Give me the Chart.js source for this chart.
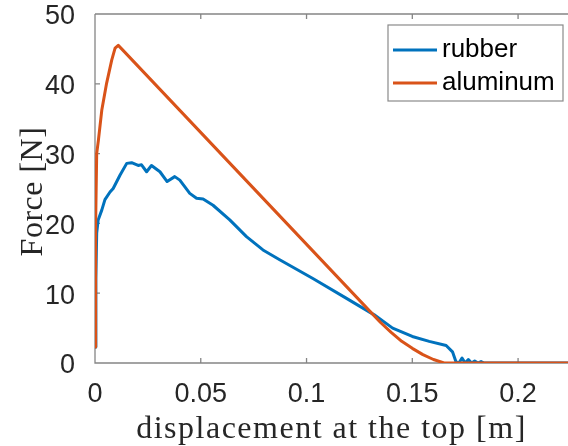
<!DOCTYPE html>
<html>
<head>
<meta charset="utf-8">
<script src="https://cdn.jsdelivr.net/npm/chart.js@4.4.0/dist/chart.umd.min.js"></script>
<style>
  html, body { margin: 0; padding: 0; background: #fff; }
</style>
</head>
<body>
<canvas id="forceChart" width="568" height="446"></canvas>
<script>
// tick values
const xTicks = [0, 0.05, 0.1, 0.15, 0.2];
const yTicks = [0, 10, 20, 30, 40, 50];

const seriesNames = ['rubber', 'aluminum'];

// rubber: displacement [m] / force [N]
const rubberX = [0, 0.0004, 0.0008, 0.0015, 0.0032, 0.0047, 0.0071, 0.0086, 0.0118, 0.015,
  0.0173, 0.0204, 0.022, 0.0244, 0.0267, 0.0307, 0.0341, 0.0377, 0.0401, 0.0448,
  0.048, 0.0511, 0.0558, 0.0637, 0.0716, 0.0794, 0.0873, 0.103, 0.1187, 0.132,
  0.1407, 0.150, 0.158, 0.166, 0.169, 0.1706, 0.172, 0.1735, 0.175, 0.1765,
  0.178, 0.1795, 0.181, 0.1825, 0.184, 0.2236];
const rubberY = [2.3, 12, 18.6, 20.5, 21.9, 23.4, 24.5, 25, 26.9, 28.6,
  28.7, 28.3, 28.4, 27.4, 28.3, 27.4, 26.0, 26.7, 26.2, 24.3,
  23.6, 23.5, 22.6, 20.5, 18.1, 16.2, 14.8, 12.1, 9.3, 6.9,
  5.0, 3.8, 3.1, 2.5, 1.6, 0.2, 0, 0.7, 0, 0.5,
  0, 0.3, 0, 0.2, 0, 0];

// aluminum
const aluminumX = [0, 0.0003, 0.0008, 0.0016, 0.0032, 0.0055, 0.0079, 0.0095, 0.011, 0.0126,
  0.13, 0.135, 0.14, 0.145, 0.15, 0.155, 0.16, 0.165, 0.2236];
const aluminumY = [2.3, 20, 30, 31.9, 36.2, 40.1, 43.4, 45.1, 45.5, 45.0,
  7.4, 5.8, 4.4, 3.1, 2.1, 1.2, 0.5, 0, 0];

const colors = ['#0072BD', '#D95319'];
const axisColor = '#858585';
const textColor = '#262626';

const toPoints = (xs, ys) => xs.map((x, i) => ({ x: x, y: ys[i] }));

// box lines + inward ticks (drawn under the data like MATLAB)
const framePlugin = {
    id: 'frame',
    beforeDatasetsDraw(chart) {
        const { ctx, chartArea: a, scales } = chart;
        ctx.save();
        ctx.strokeStyle = axisColor;
        ctx.lineWidth = 1.3;
        ctx.beginPath();
        ctx.moveTo(a.left, a.top);
        ctx.lineTo(a.right + 2, a.top);
        ctx.moveTo(a.left, a.top);
        ctx.lineTo(a.left, a.bottom);
        ctx.lineTo(a.right + 2, a.bottom);
        xTicks.forEach(v => {
            const px = scales.x.getPixelForValue(v);
            ctx.moveTo(px, a.bottom);
            ctx.lineTo(px, a.bottom - 5);
            ctx.moveTo(px, a.top);
            ctx.lineTo(px, a.top + 5);
        });
        yTicks.forEach(v => {
            const py = scales.y.getPixelForValue(v);
            ctx.moveTo(a.left, py);
            ctx.lineTo(a.left + 5, py);
        });
        ctx.stroke();
        ctx.restore();
    }
};

// axis titles (LaTeX-ish serif)
const titlePlugin = {
    id: 'titles',
    afterDraw(chart) {
        const { ctx, chartArea: a } = chart;
        ctx.save();
        ctx.fillStyle = textColor;
        ctx.font = '32px "Liberation Serif"';
        ctx.textAlign = 'center';
        ctx.textBaseline = 'alphabetic';
        ctx.letterSpacing = '1.5px';
        ctx.fillText('displacement at the top [m]', (a.left + a.right) / 2, a.bottom + 75);
        ctx.letterSpacing = '0.5px';
        ctx.translate(42, (a.top + a.bottom) / 2 + 3);
        ctx.rotate(-Math.PI / 2);
        ctx.fillText('Force [N]', 0, 0);
        ctx.restore();
    }
};

// legend box in the top right corner
const legendPlugin = {
    id: 'boxLegend',
    afterDraw(chart) {
        const { ctx, chartArea: a } = chart;
        const w = 175, h = 76;
        const x0 = a.right - 5 - w, y0 = a.top + 11;
        ctx.save();
        ctx.fillStyle = '#fff';
        ctx.fillRect(x0, y0, w, h);
        ctx.strokeStyle = '#8a8a8a';
        ctx.lineWidth = 1.2;
        ctx.strokeRect(x0, y0, w, h);
        ctx.font = '26px "Liberation Sans"';
        ctx.textBaseline = 'middle';
        chart.data.datasets.forEach((ds, i) => {
            const yy = y0 + 25 + i * 33;
            ctx.strokeStyle = ds.borderColor;
            ctx.lineWidth = 3;
            ctx.beginPath();
            ctx.moveTo(x0 + 5, yy);
            ctx.lineTo(x0 + 49, yy);
            ctx.stroke();
            ctx.fillStyle = '#000';
            ctx.fillText(ds.label, x0 + 54, yy);
        });
        ctx.restore();
    }
};

const ctx = document.getElementById('forceChart').getContext('2d');
Chart.defaults.font.family = '"Liberation Sans", Arial, sans-serif';
Chart.defaults.color = textColor;

new Chart(ctx, {
    type: 'scatter',
    data: {
        datasets: [
            {
                label: seriesNames[0],
                data: toPoints(rubberX, rubberY),
                borderColor: colors[0],
                backgroundColor: colors[0],
                borderWidth: 3,
                showLine: true,
                pointRadius: 0,
                borderJoinStyle: 'round',
                borderCapStyle: 'round',
                order: 1
            },
            {
                label: seriesNames[1],
                data: toPoints(aluminumX, aluminumY),
                borderColor: colors[1],
                backgroundColor: colors[1],
                borderWidth: 3,
                showLine: true,
                pointRadius: 0,
                borderJoinStyle: 'round',
                borderCapStyle: 'round',
                order: 0
            }
        ]
    },
    options: {
        responsive: false,
        animation: false,
        layout: { padding: { top: 14, right: 0, left: 0, bottom: 0 } },
        plugins: {
            legend: { display: false },
            tooltip: { enabled: false }
        },
        scales: {
            x: {
                type: 'linear',
                min: 0,
                max: 0.2236,
                grid: { display: false },
                border: { display: false },
                afterBuildTicks: s => { s.ticks = xTicks.map(v => ({ value: v })); },
                afterFit: s => { s.height = 83; s.paddingLeft = 0; s.paddingRight = 0; },
                ticks: {
                    font: { size: 27 },
                    color: textColor,
                    padding: 7,
                    maxRotation: 0,
                    callback: v => String(v)
                }
            },
            y: {
                min: 0,
                max: 50,
                grid: { display: false },
                border: { display: false },
                afterBuildTicks: s => { s.ticks = yTicks.map(v => ({ value: v })); },
                afterFit: s => { s.width = 95; s.paddingTop = 0; s.paddingBottom = 0; },
                ticks: {
                    font: { size: 27 },
                    color: textColor,
                    padding: 12,
                    labelOffset: 3,
                    callback: v => String(v)
                }
            }
        }
    },
    plugins: [framePlugin, titlePlugin, legendPlugin]
});
</script>
</body>
</html>
